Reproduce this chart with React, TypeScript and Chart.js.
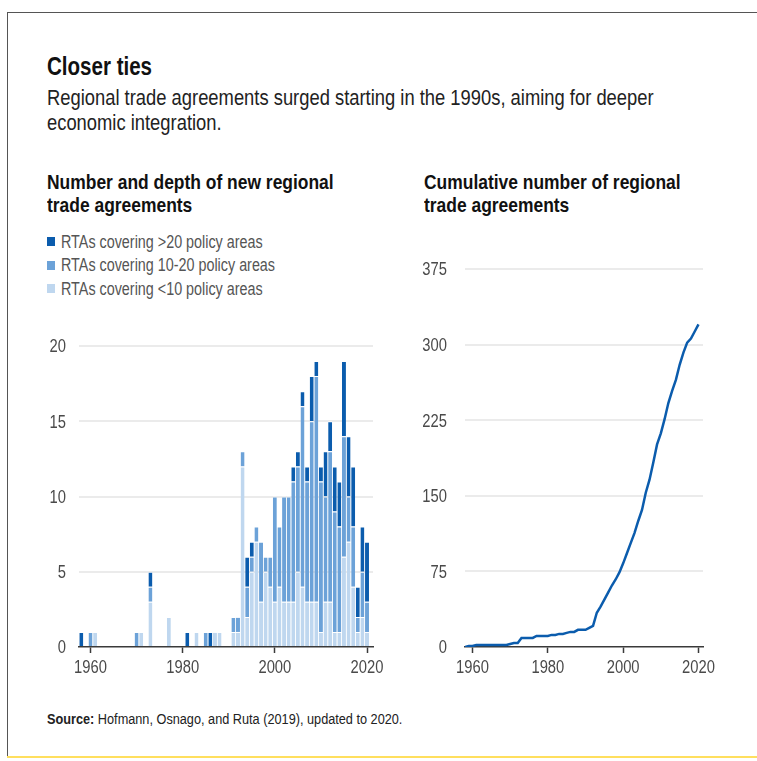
import React, { useEffect, useRef } from "react";
import { Chart, registerables } from "chart.js";

Chart.register(...registerables);

const FONT = '"Liberation Sans", Arial, sans-serif';
const NARROW = 0.82;

const DARK = "#0b5cad";
const MID = "#6ca2d8";
const LIGHT = "#bfd7ef";

// Left panel: new RTAs per year, by depth
const barYears = [
  1958, 1960, 1961, 1970, 1971, 1973, 1977, 1981, 1983, 1985, 1986, 1987, 1988,
  1991, 1992, 1993, 1994, 1995, 1996, 1997, 1998, 1999, 2000, 2001, 2002, 2003,
  2004, 2005, 2006, 2007, 2008, 2009, 2010, 2011, 2012, 2013, 2014, 2015, 2016,
  2017, 2018, 2019, 2020,
];
const shallowRTAs = [
  0, 0, 1, 0, 1, 3, 2, 0, 1, 0, 0, 1, 1,
  1, 1, 12, 2, 5, 7, 3, 5, 4, 3, 4, 3, 3,
  3, 5, 4, 3, 3, 3, 1, 3, 3, 1, 1, 6, 7,
  4, 1, 2, 1,
];
const mediumRTAs = [
  0, 1, 0, 1, 0, 1, 0, 0, 0, 1, 0, 0, 0,
  1, 1, 1, 2, 1, 1, 4, 1, 2, 7, 4, 7, 7,
  8, 7, 12, 8, 12, 15, 10, 7, 10, 8, 7, 8, 3,
  4, 1, 3, 2,
];
const deepRTAs = [
  1, 0, 0, 0, 0, 1, 0, 1, 0, 0, 1, 0, 0,
  0, 0, 0, 2, 1, 0, 0, 0, 0, 0, 0, 0, 0,
  1, 1, 1, 1, 3, 1, 1, 3, 2, 3, 3, 5, 4,
  4, 2, 3, 4,
];

// Right panel: cumulative number of RTAs
const cumulativeYears = [
  1958, 1959, 1960, 1961, 1962, 1963, 1964, 1965, 1966, 1967, 1968, 1969, 1970,
  1971, 1972, 1973, 1974, 1975, 1976, 1977, 1978, 1979, 1980, 1981, 1982, 1983,
  1984, 1985, 1986, 1987, 1988, 1989, 1990, 1991, 1992, 1993, 1994, 1995, 1996,
  1997, 1998, 1999, 2000, 2001, 2002, 2003, 2004, 2005, 2006, 2007, 2008, 2009,
  2010, 2011, 2012, 2013, 2014, 2015, 2016, 2017, 2018, 2019, 2020,
];
const cumulativeRTAs = [
  0, 1, 1, 2, 2, 2, 2, 2, 2, 2, 2, 2, 3,
  4, 4, 9, 9, 9, 9, 11, 11, 11, 11, 12, 12, 13,
  13, 14, 15, 15, 17, 17, 17, 19, 21, 34, 40, 47, 54,
  61, 67, 74, 83, 93, 103, 113, 125, 136, 153, 166, 183, 201,
  212, 226, 242, 254, 265, 280, 292, 302, 306, 313, 320,
];

const xTickValues = [1960, 1980, 2000, 2020];
const barYTickValues = [0, 5, 10, 15, 20];
const lineYTickValues = [0, 75, 150, 225, 300, 375];

const legendItems = [
  { label: "RTAs covering >20 policy areas", color: DARK },
  { label: "RTAs covering 10-20 policy areas", color: MID },
  { label: "RTAs covering <10 policy areas", color: LIGHT },
];

const TICK_COLOR = "#4a4a4a";
const GRID_COLOR = "#ebebeb";
const AXIS_COLOR = "#3a3a3a";
const TICK_SIZE = 18;

// Draws the axis tick labels in a horizontally condensed face (the reference uses a condensed font).
const condensedTicks = {
  id: "condensedTicks",
  afterDraw(chart: any) {
    const ctx = chart.ctx as CanvasRenderingContext2D;
    const xs = chart.scales.x;
    const ys = chart.scales.y;
    const pad = chart.options.plugins.condensedTicks?.yPad ?? 13;
    ctx.save();
    ctx.fillStyle = TICK_COLOR;
    ctx.font = `${TICK_SIZE}px ${FONT}`;
    ctx.textBaseline = "alphabetic";
    const draw = (text: string, x: number, y: number, align: CanvasTextAlign) => {
      ctx.save();
      ctx.translate(x, y);
      ctx.scale(NARROW, 1);
      ctx.textAlign = align;
      ctx.fillText(text, 0, 0);
      ctx.restore();
    };
    xs.ticks.forEach((t: any) => {
      draw(String(t.value), xs.getPixelForValue(t.value), xs.top + 26, "center");
    });
    ys.ticks.forEach((t: any) => {
      draw(String(t.value), ys.right - pad, ys.getPixelForValue(t.value) + TICK_SIZE * 0.358, "right");
    });
    ctx.restore();
  },
};

function xAxis(min: number, max: number) {
  return {
    type: "linear" as const,
    min,
    max,
    offset: false,
    afterBuildTicks: (axis: any) => {
      axis.ticks = xTickValues.map((v) => ({ value: v }));
    },
    afterFit: (axis: any) => {
      axis.height = 33;
    },
    grid: {
      display: true,
      offset: false,
      drawOnChartArea: false,
      drawTicks: true,
      tickLength: 6,
      tickColor: AXIS_COLOR,
      tickWidth: 1.5,
    },
    border: { display: true, color: AXIS_COLOR, width: 1.5 },
    ticks: { display: false, autoSkip: false },
  };
}

function yAxis(max: number, tickValues: number[], width: number) {
  return {
    type: "linear" as const,
    min: 0,
    max,
    afterBuildTicks: (axis: any) => {
      axis.ticks = tickValues.map((v) => ({ value: v }));
    },
    afterFit: (axis: any) => {
      axis.width = width;
    },
    grid: {
      color: (ctx: any) => (ctx.tick && ctx.tick.value === 0 ? "rgba(0,0,0,0)" : GRID_COLOR),
      lineWidth: 2,
      drawTicks: false,
    },
    border: { display: false },
    ticks: { display: false, autoSkip: false },
  };
}

function BarPanel() {
  const ref = useRef<HTMLCanvasElement | null>(null);
  useEffect(() => {
    if (!ref.current) return;
    const mk = (vals: number[], label: string, color: string) => ({
      label,
      data: barYears.map((x, i) => ({ x, y: vals[i] ? vals[i] : null })),
      backgroundColor: color,
      borderColor: "#ffffff",
      borderWidth: { top: 1, left: 0, right: 0, bottom: 0 },
      borderSkipped: "start",
      barPercentage: 1,
      categoryPercentage: 0.86,
    });
    const chart = new Chart(ref.current, {
      type: "bar",
      data: {
        datasets: [
          mk(shallowRTAs, "RTAs covering <10 policy areas", LIGHT),
          mk(mediumRTAs, "RTAs covering 10-20 policy areas", MID),
          mk(deepRTAs, "RTAs covering >20 policy areas", DARK),
        ] as any,
      },
      options: {
        animation: false,
        responsive: false,
        devicePixelRatio: 1,
        layout: { padding: { top: 16, right: 17, bottom: 0, left: 0 } },
        plugins: {
          legend: { display: false },
          tooltip: { enabled: false },
          condensedTicks: { yPad: 13 },
        } as any,
        scales: {
          x: { ...xAxis(1957.5, 2021.3), stacked: true } as any,
          y: { ...yAxis(20, barYTickValues, 49), stacked: true } as any,
        },
      },
      plugins: [condensedTicks],
    });
    return () => chart.destroy();
  }, []);
  return (
    <canvas
      ref={ref}
      width={360}
      height={350}
      style={{ position: "absolute", left: 30, top: 330, width: 360, height: 350 }}
    />
  );
}

function LinePanel() {
  const ref = useRef<HTMLCanvasElement | null>(null);
  useEffect(() => {
    if (!ref.current) return;
    const chart = new Chart(ref.current, {
      type: "line",
      data: {
        datasets: [
          {
            label: "Cumulative number of regional trade agreements",
            data: cumulativeYears.map((x, i) => ({ x, y: cumulativeRTAs[i] })),
            borderColor: DARK,
            borderWidth: 2.5,
            pointRadius: 0,
            tension: 0,
            fill: false,
          },
        ],
      },
      options: {
        animation: false,
        responsive: false,
        devicePixelRatio: 1,
        layout: { padding: { top: 14, right: 17, bottom: 0, left: 0 } },
        plugins: {
          legend: { display: false },
          tooltip: { enabled: false },
          condensedTicks: { yPad: 18 },
        } as any,
        scales: {
          x: xAxis(1958, 2021.2) as any,
          y: yAxis(375, lineYTickValues, 55) as any,
        },
      },
      plugins: [condensedTicks],
    });
    return () => chart.destroy();
  }, []);
  return (
    <canvas
      ref={ref}
      width={310}
      height={425}
      style={{ position: "absolute", left: 410, top: 255, width: 310, height: 425 }}
    />
  );
}

const txt = (
  left: number,
  top: number,
  extra: React.CSSProperties = {},
  sx: number = NARROW
): React.CSSProperties => ({
  position: "absolute",
  left,
  top,
  margin: 0,
  fontFamily: FONT,
  whiteSpace: "nowrap",
  transform: `scaleX(${sx})`,
  transformOrigin: "left top",
  ...extra,
});

export default function App() {
  return (
    <div
      style={{
        position: "absolute",
        left: 0,
        top: 0,
        width: 757,
        height: 761,
        background: "#ffffff",
        overflow: "hidden",
      }}
    >
      {/* frame */}
      <div style={{ position: "absolute", left: 7, top: 12, width: 760, height: 1, background: "#555" }} />
      <div style={{ position: "absolute", left: 7, top: 12, width: 1, height: 745, background: "#555" }} />
      <div style={{ position: "absolute", left: 7, top: 756, width: 760, height: 2, background: "#ffdf5e" }} />

      <div style={txt(47, 51, { fontSize: 26, lineHeight: "30px", fontWeight: 700, color: "#111" }, 0.79)}>
        Closer ties
      </div>
      <div style={txt(47, 85, { fontSize: 22, lineHeight: "25px", color: "#222" }, 0.835)}>
        Regional trade agreements surged starting in the 1990s, aiming for deeper
        <br />
        economic integration.
      </div>

      <div style={txt(47, 170, { fontSize: 21, lineHeight: "23px", fontWeight: 700, color: "#111" }, 0.83)}>
        Number and depth of new regional
        <br />
        trade agreements
      </div>
      <div style={txt(424, 170, { fontSize: 21, lineHeight: "23px", fontWeight: 700, color: "#111" }, 0.83)}>
        Cumulative number of regional
        <br />
        trade agreements
      </div>

      {legendItems.map((it, i) => (
        <React.Fragment key={it.label}>
          <div
            style={{
              position: "absolute",
              left: 47,
              top: 237 + i * 23.5,
              width: 8,
              height: 9,
              background: it.color,
            }}
          />
          <div style={txt(61, 231.5 + i * 23.5, { lineHeight: "20px", fontSize: 17.5, color: "#555" })}>
            {it.label}
          </div>
        </React.Fragment>
      ))}

      <BarPanel />
      <LinePanel />

      <div style={txt(47, 709, { fontSize: 15.5, lineHeight: "20px", color: "#222" })}>
        <b>Source:</b> Hofmann, Osnago, and Ruta (2019), updated to 2020.
      </div>
    </div>
  );
}
